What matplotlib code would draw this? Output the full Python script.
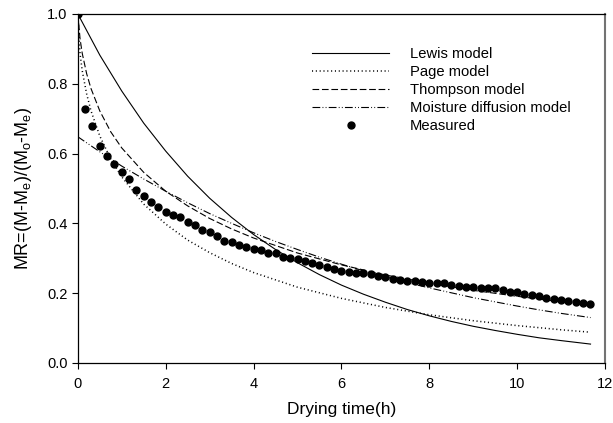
import numpy as np
import matplotlib.pyplot as plt

plt.rcParams['font.family'] = ['Liberation Sans', 'DejaVu Sans']
plt.rcParams['mathtext.fontset'] = 'custom'
plt.rcParams['mathtext.rm'] = 'Liberation Sans'
plt.rcParams['mathtext.it'] = 'Liberation Sans'

# measured MR, every 10 min
t_meas = np.arange(71) / 6.0
mr_meas = [1.000, 0.728, 0.680, 0.623, 0.592, 0.571, 0.548, 0.527, 0.496, 0.479,
           0.462, 0.448, 0.433, 0.424, 0.419, 0.404, 0.396, 0.380, 0.374, 0.364,
           0.349, 0.347, 0.337, 0.333, 0.327, 0.324, 0.314, 0.314, 0.304, 0.301,
           0.297, 0.292, 0.286, 0.281, 0.276, 0.269, 0.264, 0.262, 0.259, 0.257,
           0.255, 0.249, 0.246, 0.241, 0.239, 0.236, 0.235, 0.233, 0.230, 0.230,
           0.228, 0.224, 0.221, 0.219, 0.217, 0.216, 0.215, 0.214, 0.209, 0.204,
           0.204, 0.198, 0.194, 0.192, 0.187, 0.183, 0.181, 0.178, 0.175, 0.171,
           0.169]

# model curves
t_lewis = [0, 0.5, 1, 1.5, 2, 2.5, 3, 3.5, 4, 4.5, 5, 5.5, 6, 6.5, 7, 7.5,
           8, 8.5, 9, 9.5, 10, 10.5, 11, 11.67]
mr_lewis = [1.000, 0.882, 0.779, 0.687, 0.607, 0.535, 0.472, 0.417, 0.368, 0.325,
            0.287, 0.253, 0.223, 0.197, 0.174, 0.153, 0.135, 0.119, 0.105, 0.093,
            0.082, 0.072, 0.064, 0.054]

t_page = [0, 0.05, 0.1, 0.2, 0.3, 0.5, 0.75, 1, 1.5, 2, 2.5, 3, 3.5, 4, 5, 6,
          7, 8, 9, 10, 11, 11.67]
mr_page = [1.000, 0.886, 0.837, 0.771, 0.722, 0.650, 0.584, 0.533, 0.455, 0.398,
           0.352, 0.316, 0.285, 0.259, 0.217, 0.185, 0.159, 0.138, 0.121, 0.107,
           0.095, 0.088]

t_thom = [0, 0.05, 0.1, 0.2, 0.3, 0.5, 0.75, 1, 1.5, 2, 2.5, 3, 3.5, 4, 5, 6,
          7, 8, 9, 10, 11, 11.67]
mr_thom = [1.000, 0.929, 0.887, 0.829, 0.786, 0.722, 0.662, 0.616, 0.546, 0.492,
           0.450, 0.414, 0.384, 0.358, 0.315, 0.281, 0.252, 0.229, 0.208, 0.191,
           0.175, 0.166]

t_diff = t_lewis
mr_diff = [0.648, 0.605, 0.564, 0.527, 0.492, 0.459, 0.428, 0.400, 0.373, 0.348,
           0.325, 0.303, 0.283, 0.264, 0.247, 0.230, 0.215, 0.201, 0.187, 0.175,
           0.163, 0.152, 0.142, 0.130]

fig = plt.figure(figsize=(6.13, 4.23), dpi=100)
ax = fig.add_axes([0.127, 0.142, 0.860, 0.825])

lw = 0.8
ax.plot(t_lewis, mr_lewis, '-', color='k', lw=lw, label='Lewis model')
ax.plot(t_page, mr_page, color='k', lw=1.1, dashes=(0.7, 1.8), label='Page model')
ax.plot(t_thom, mr_thom, color='k', lw=lw, dashes=(6, 2.5), label='Thompson model')
ax.plot(t_diff, mr_diff, color='k', lw=lw, dashes=(7, 2, 0.8, 2, 0.8, 2),
        label='Moisture diffusion model')
ax.plot(t_meas, mr_meas, 'o', color='k', markersize=5, label='Measured')

ax.set_xlim(0, 12)
ax.set_ylim(0, 1.0)
ax.set_xticks(range(0, 13, 2))
ax.set_yticks(np.arange(0, 1.01, 0.2))
ax.yaxis.set_major_formatter(plt.FormatStrFormatter('%.1f'))
ax.tick_params(direction='out', length=4, width=0.8, labelsize=10.5, colors='k')
ax.tick_params(axis='x', pad=6)
for s in ['left', 'bottom', 'top']:
    ax.spines[s].set_linewidth(0.9)
ax.spines['right'].set_color('0.45')
ax.spines['right'].set_linewidth(1.5)

ax.set_xlabel('Drying time(h)', fontsize=12.5, labelpad=8)
ax.set_ylabel(r'MR=(M-M$_{\rm e}$)/(M$_{\rm o}$-M$_{\rm e}$)', fontsize=13, labelpad=9)

ax.legend(loc='upper left', bbox_to_anchor=(0.445, 0.905), frameon=False,
          fontsize=10.6, handlelength=5.2, handletextpad=1.4, labelspacing=0.27,
          borderpad=0, borderaxespad=0)

fig.savefig('out.png', dpi=100)
